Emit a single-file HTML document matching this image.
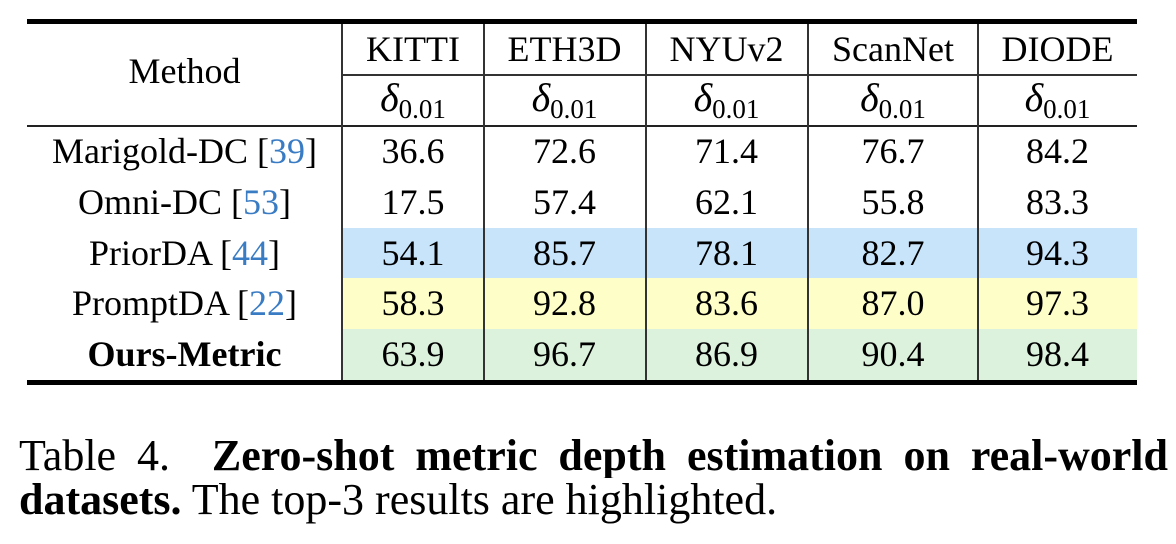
<!DOCTYPE html>
<html><head><meta charset="utf-8"><style>
body{margin:0;width:1176px;height:544px;background:#fff;position:relative;overflow:hidden;font-family:"Liberation Serif",serif;color:#000}
.a{position:absolute}
.c{position:absolute;text-align:center;font-size:36px;line-height:51px;height:51px;white-space:nowrap}
.v{position:absolute;width:2px;background:#333;top:24px;height:356px}
.r{color:#3a7cc3}
sub{font-size:27px;vertical-align:-7px}
.d{font-style:italic;font-size:40px}
.cap{position:absolute;left:19px;width:1149px;font-size:44px;line-height:44px;white-space:nowrap}
</style></head><body>
<div class="a" style="left:342px;top:228px;width:795px;height:50px;background:#c8e4fb"></div>
<div class="a" style="left:342px;top:278px;width:795px;height:51px;background:#fefec8"></div>
<div class="a" style="left:342px;top:329px;width:795px;height:51px;background:#dcf2dc"></div>
<div class="a" style="left:27px;top:19px;width:1110px;height:5px;background:#000"></div>
<div class="a" style="left:342px;top:74px;width:795px;height:2px;background:#333"></div>
<div class="a" style="left:27px;top:125px;width:1110px;height:2px;background:#222"></div>
<div class="a" style="left:27px;top:380px;width:1110px;height:5px;background:#000"></div>
<div class="v" style="left:341px"></div>
<div class="v" style="left:483px"></div>
<div class="v" style="left:645px"></div>
<div class="v" style="left:807px"></div>
<div class="v" style="left:977px"></div>

<div class="c" style="left:27px;width:315px;top:46px;font-size:36px">Method</div>
<div class="c" style="left:342px;width:142px;top:24px">KITTI</div>
<div class="c" style="left:484px;width:161px;top:24px">ETH3D</div>
<div class="c" style="left:645px;width:163px;top:24px">NYUv2</div>
<div class="c" style="left:808px;width:170px;top:24px">ScanNet</div>
<div class="c" style="left:978px;width:159px;top:24px">DIODE</div>
<div class="c" style="left:342px;width:142px;top:72px"><span class="d">δ</span><sub>0.01</sub></div>
<div class="c" style="left:484px;width:161px;top:72px"><span class="d">δ</span><sub>0.01</sub></div>
<div class="c" style="left:645px;width:163px;top:72px"><span class="d">δ</span><sub>0.01</sub></div>
<div class="c" style="left:808px;width:170px;top:72px"><span class="d">δ</span><sub>0.01</sub></div>
<div class="c" style="left:978px;width:159px;top:72px"><span class="d">δ</span><sub>0.01</sub></div>

<div class="c" style="left:27px;width:315px;top:126px">Marigold-DC [<span class="r">39</span>]</div>
<div class="c" style="left:27px;width:315px;top:177px">Omni-DC [<span class="r">53</span>]</div>
<div class="c" style="left:27px;width:315px;top:228px">PriorDA [<span class="r">44</span>]</div>
<div class="c" style="left:27px;width:315px;top:278px">PromptDA [<span class="r">22</span>]</div>
<div class="c" style="left:27px;width:315px;top:329px;font-weight:bold">Ours-Metric</div>

<div class="c" style="left:342px;width:142px;top:126px">36.6</div>
<div class="c" style="left:484px;width:161px;top:126px">72.6</div>
<div class="c" style="left:645px;width:163px;top:126px">71.4</div>
<div class="c" style="left:808px;width:170px;top:126px">76.7</div>
<div class="c" style="left:978px;width:159px;top:126px">84.2</div>

<div class="c" style="left:342px;width:142px;top:177px">17.5</div>
<div class="c" style="left:484px;width:161px;top:177px">57.4</div>
<div class="c" style="left:645px;width:163px;top:177px">62.1</div>
<div class="c" style="left:808px;width:170px;top:177px">55.8</div>
<div class="c" style="left:978px;width:159px;top:177px">83.3</div>

<div class="c" style="left:342px;width:142px;top:228px">54.1</div>
<div class="c" style="left:484px;width:161px;top:228px">85.7</div>
<div class="c" style="left:645px;width:163px;top:228px">78.1</div>
<div class="c" style="left:808px;width:170px;top:228px">82.7</div>
<div class="c" style="left:978px;width:159px;top:228px">94.3</div>

<div class="c" style="left:342px;width:142px;top:278px">58.3</div>
<div class="c" style="left:484px;width:161px;top:278px">92.8</div>
<div class="c" style="left:645px;width:163px;top:278px">83.6</div>
<div class="c" style="left:808px;width:170px;top:278px">87.0</div>
<div class="c" style="left:978px;width:159px;top:278px">97.3</div>

<div class="c" style="left:342px;width:142px;top:329px">63.9</div>
<div class="c" style="left:484px;width:161px;top:329px">96.7</div>
<div class="c" style="left:645px;width:163px;top:329px">86.9</div>
<div class="c" style="left:808px;width:170px;top:329px">90.4</div>
<div class="c" style="left:978px;width:159px;top:329px">98.4</div>

<div class="cap" style="top:434px;white-space:normal;text-align:justify;text-align-last:justify;height:44px;overflow:hidden">Table 4.&nbsp; <b>Zero-shot metric depth estimation on real-world</b></div>
<div class="cap" style="top:478px"><b>datasets.</b> The top-3 results are highlighted.</div>
</body></html>
